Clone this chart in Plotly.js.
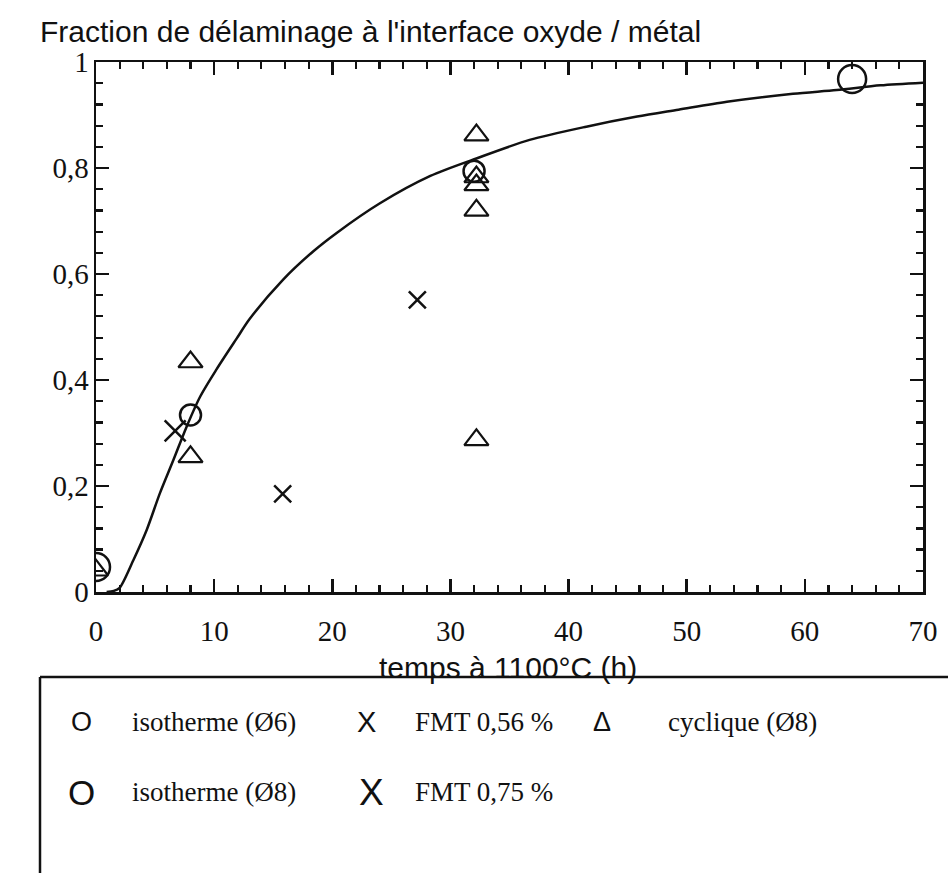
<!DOCTYPE html>
<html>
<head>
<meta charset="utf-8">
<script src="https://cdn.plot.ly/plotly-3.0.1.min.js"></script>
<style>html,body{margin:0;padding:0;background:#fff;}#chart{width:948px;height:873px;}</style>
</head>
<body>
<div id="chart"></div>
<script>
// Fitted curve
const curveT = [0.9, 1.5, 2.0, 3.16, 4.29, 5.42, 6.55, 7.67, 8.8, 10.2, 11.9, 13.0, 15.86, 18.4, 20.4, 24.0, 28.3, 32.2, 36.7, 41.5, 45.8, 49.3, 53.4, 59.0, 62.7, 66.4, 70];
const curveY = [0, 0.002, 0.008, 0.06, 0.117, 0.187, 0.249, 0.312, 0.368, 0.42, 0.478, 0.515, 0.59, 0.643, 0.678, 0.733, 0.785, 0.818, 0.853, 0.878, 0.897, 0.91, 0.925, 0.94, 0.947, 0.956, 0.961];

// isotherme (Ø6) - small circles
const iso6T = [8, 32];
const iso6Y = [0.334, 0.794];
// isotherme (Ø8) - large circles
const iso8T = [0, 64];
const iso8Y = [0.047, 0.968];
// FMT 0,56 % - small crosses
const fmt56T = [15.8, 27.2];
const fmt56Y = [0.185, 0.551];
// FMT 0,75 % - large cross
const fmt75T = [6.7];
const fmt75Y = [0.304];
// cyclique (Ø8) - triangles
const cycT = [0, 8, 8, 32.2, 32.2, 32.2, 32.2, 32.2];
const cycY = [0.041, 0.434, 0.255, 0.862, 0.783, 0.768, 0.72, 0.287];

const xTickVals = [0, 10, 20, 30, 40, 50, 60, 70];
const xTickText = ['0', '10', '20', '30', '40', '50', '60', '70'];
const yTickVals = [0, 0.2, 0.4, 0.6, 0.8, 1];
const yTickText = ['0', '0,2', '0,4', '0,6', '0,8', '1'];

const xTitle = 'temps à 1100°C (h)';
const legendRow1 = [
  {sym: 'O', size: 27, label: 'isotherme (Ø6)'},
  {sym: 'X', size: 29, label: 'FMT 0,56 %'},
  {sym: 'Δ', size: 27, label: 'cyclique (Ø8)'}
];
const legendRow2 = [
  {sym: 'O', size: 35, label: 'isotherme (Ø8)'},
  {sym: 'X', size: 37, label: 'FMT 0,75 %'}
];

const K = '#111';
const serif = 'Liberation Serif, Times New Roman, serif';
const sans = 'Liberation Sans, Arial, sans-serif';

const traces = [
  {x: curveT, y: curveY, mode: 'lines', line: {color: K, width: 2.5, shape: 'spline', smoothing: 0.8}, name: 'ajustement', hoverinfo: 'skip'},
  {x: iso6T, y: iso6Y, mode: 'markers', name: 'isotherme (Ø6)', marker: {symbol: 'circle-open', size: 21, color: K, line: {width: 2.5, color: K}}},
  {x: iso8T, y: iso8Y, mode: 'markers', name: 'isotherme (Ø8)', marker: {symbol: 'circle-open', size: 28, color: K, line: {width: 2.5, color: K}}},
  {x: fmt56T, y: fmt56Y, mode: 'markers', name: 'FMT 0,56 %', marker: {symbol: 'x-thin-open', size: 17, color: K, line: {width: 2.5, color: K}}},
  {x: fmt75T, y: fmt75Y, mode: 'markers', name: 'FMT 0,75 %', marker: {symbol: 'x-thin-open', size: 21, color: K, line: {width: 2.5, color: K}}},
  {x: cycT, y: cycY, mode: 'markers', name: 'cyclique (Ø8)', marker: {symbol: 'triangle-up-open', size: 21, color: K, line: {width: 2.2, color: K}}}
];

// plot area in px: x 96..923, y 62..592
const L = 96, R = 923, T = 62, B = 592;
const px = v => (v - L) / (R - L);
const py = v => (B - v) / (B - T);

const annotations = [
  {xref: 'paper', yref: 'paper', x: px(508), y: py(667), xanchor: 'center', yanchor: 'middle', text: xTitle, showarrow: false,
   font: {family: sans, size: 30, color: K}}
];
function addRow(items, yPix, xs) {
  items.forEach((it, i) => {
    annotations.push({xref: 'paper', yref: 'paper', x: px(xs[i][0]), y: py(yPix), xanchor: 'center', yanchor: 'middle',
      text: it.sym, showarrow: false, font: {family: sans, size: it.size, color: K}});
    annotations.push({xref: 'paper', yref: 'paper', x: px(xs[i][1]), y: py(yPix), xanchor: 'left', yanchor: 'middle',
      text: it.label, showarrow: false, font: {family: serif, size: 27, color: K}});
  });
}
addRow(legendRow1, 722, [[81, 130], [366, 413], [602, 666]]);
addRow(legendRow2, 792, [[81, 130], [371, 413]]);

const shapes = [
  {type: 'line', xref: 'paper', yref: 'paper', x0: px(40), x1: px(960), y0: py(677), y1: py(677), line: {color: K, width: 2.5}},
  {type: 'line', xref: 'paper', yref: 'paper', x0: px(40), x1: px(40), y0: py(677), y1: py(880), line: {color: K, width: 2.5}}
];

const layout = {
  width: 948, height: 873,
  margin: {l: L, r: 948 - R, t: T, b: 873 - B},
  paper_bgcolor: '#fff', plot_bgcolor: '#fff',
  showlegend: false,
  title: {text: "Fraction de délaminage à l'interface oxyde / métal", x: 40/948, xanchor: 'left', xref: 'container',
    y: 1 - 31/873, yref: 'container', yanchor: 'middle', font: {family: sans, size: 30, color: K}},
  xaxis: {range: [0, 70], tickvals: xTickVals, ticktext: xTickText, ticks: 'inside', ticklen: 13, tickwidth: 2.5, tickcolor: K,
    minor: {dtick: 2, ticks: 'inside', ticklen: 7, tickwidth: 2.2, tickcolor: K},
    showline: true, linecolor: K, linewidth: 2.5, mirror: 'ticks', showgrid: false, zeroline: false,
    tickfont: {family: serif, size: 29, color: K}, ticklabelstandoff: 12},
  yaxis: {range: [0, 1], tickvals: yTickVals, ticktext: yTickText, ticks: 'inside', ticklen: 13, tickwidth: 2.5, tickcolor: K,
    minor: {dtick: 0.04, ticks: 'inside', ticklen: 7, tickwidth: 2.2, tickcolor: K},
    showline: true, linecolor: K, linewidth: 2.5, mirror: 'ticks', showgrid: false, zeroline: false,
    tickfont: {family: serif, size: 29, color: K}, ticklabelstandoff: -1},
  annotations: annotations,
  shapes: shapes
};

Plotly.newPlot('chart', traces, layout, {displayModeBar: false, staticPlot: true});
</script>
</body>
</html>
